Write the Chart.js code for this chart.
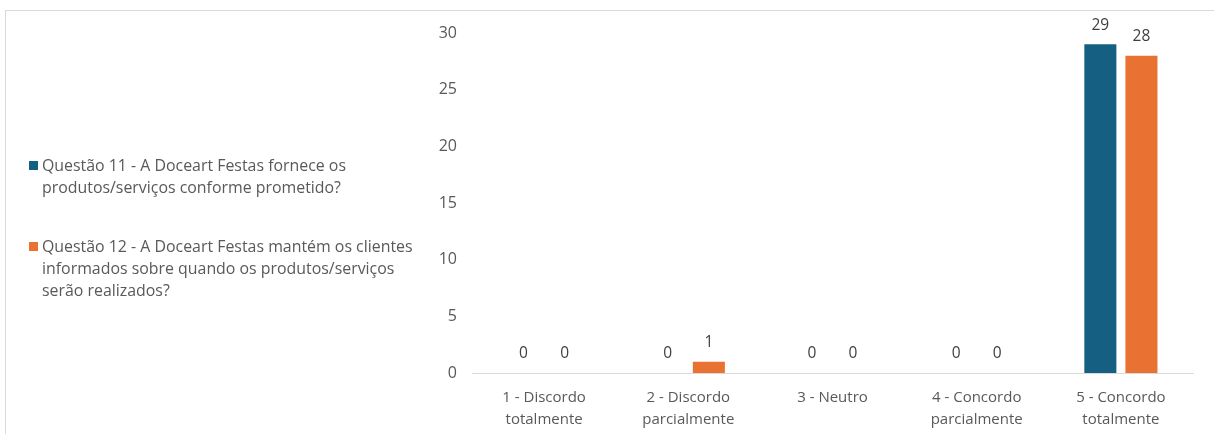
<!DOCTYPE html>
<html>
<head>
<meta charset="utf-8">
<script src="https://cdn.jsdelivr.net/npm/chart.js@4.4.1/dist/chart.umd.min.js"></script>
<style>
  html, body { margin: 0; padding: 0; background: #fff; }
  body { width: 1214px; height: 434px; position: relative; overflow: hidden; font-family: 'Open Sans', sans-serif; }
  .frame { position: absolute; left: 5px; top: 10px; width: 1214px; height: 440px; border-top: 1px solid #d9d9d9; border-left: 1px solid #d9d9d9; }
  #wrap { position: absolute; left: 0; top: 0; width: 1214px; height: 434px; }
  .legend { position: absolute; left: 29px; top: 154px; color: #595959; font-size: 15.9px; line-height: 22px; }
  .legend-item { position: relative; padding-left: 13px; margin-bottom: 37px; white-space: nowrap; }
  .legend-dot { position: absolute; left: 0; top: 7px; width: 9px; height: 9px; }
</style>
</head>
<body>
<div class="frame"></div>
<div id="wrap"><canvas id="chart" width="1214" height="434"></canvas></div>
<div class="legend" id="legend"></div>
<script>
const categories = [
  ['1 - Discordo', 'totalmente'],
  ['2 - Discordo', 'parcialmente'],
  ['3 - Neutro'],
  ['4 - Concordo', 'parcialmente'],
  ['5 - Concordo', 'totalmente']
];
const q11Values = [0, 0, 0, 0, 29];
const q12Values = [0, 1, 0, 0, 28];
const q11Name = 'Questão 11 - A Doceart Festas fornece os produtos/serviços conforme prometido?';
const q12Name = 'Questão 12 - A Doceart Festas mantém os clientes informados sobre quando os produtos/serviços serão realizados?';
const q11Lines = ['Questão 11 - A Doceart Festas fornece os', 'produtos/serviços conforme prometido?'];
const q12Lines = ['Questão 12 - A Doceart Festas mantém os clientes', 'informados sobre quando os produtos/serviços', 'serão realizados?'];
const yTicks = [0, 5, 10, 15, 20, 25, 30];

const blue = '#156082';
const orange = '#E97132';
const textGray = '#595959';

// rótulos de valor em cima das barras
const valueLabels = {
  id: 'valueLabels',
  afterDatasetsDraw(chart) {
    const ctx = chart.ctx;
    ctx.save();
    ctx.font = '15.5px "Open Sans", sans-serif';
    ctx.fillStyle = '#404040';
    ctx.textAlign = 'center';
    ctx.textBaseline = 'middle';
    chart.data.datasets.forEach((ds, i) => {
      chart.getDatasetMeta(i).data.forEach((bar, j) => {
        ctx.fillText(String(ds.data[j]), bar.x, bar.y - 19);
      });
    });
    ctx.restore();
  }
};

const chart = new Chart(document.getElementById('chart'), {
  type: 'bar',
  data: {
    labels: categories,
    datasets: [
      { label: q11Name, data: q11Values, backgroundColor: blue, barPercentage: 0.78, categoryPercentage: 0.57 },
      { label: q12Name, data: q12Values, backgroundColor: orange, barPercentage: 0.78, categoryPercentage: 0.57 }
    ]
  },
  options: {
    responsive: false,
    animation: false,
    layout: { padding: { left: 420, right: 21, top: 33, bottom: 0 } },
    plugins: { legend: { display: false }, tooltip: { enabled: false } },
    scales: {
      x: {
        afterFit: s => { s.height = 61; },
        grid: { display: false, drawTicks: false },
        border: { color: '#d9d9d9' },
        ticks: { color: textGray, font: { family: 'Open Sans', size: 15, lineHeight: 1.45 }, padding: 14, maxRotation: 0 }
      },
      y: {
        min: 0, max: 30,
        afterFit: s => { s.width = 52; },
        afterBuildTicks: s => { s.ticks = yTicks.map(v => ({ value: v })); },
        grid: { display: false, drawTicks: false },
        border: { display: false },
        ticks: { color: textGray, font: { family: 'Open Sans', size: 16 }, padding: 15 }
      }
    }
  },
  plugins: [valueLabels]
});

// legenda à esquerda
const legend = document.getElementById('legend');
[[blue, q11Lines], [orange, q12Lines]].forEach(([c, lines]) => {
  const item = document.createElement('div');
  item.className = 'legend-item';
  item.innerHTML = '<span class="legend-dot" style="background:' + c + '"></span>' + lines.join('<br>');
  legend.appendChild(item);
});
</script>
</body>
</html>
